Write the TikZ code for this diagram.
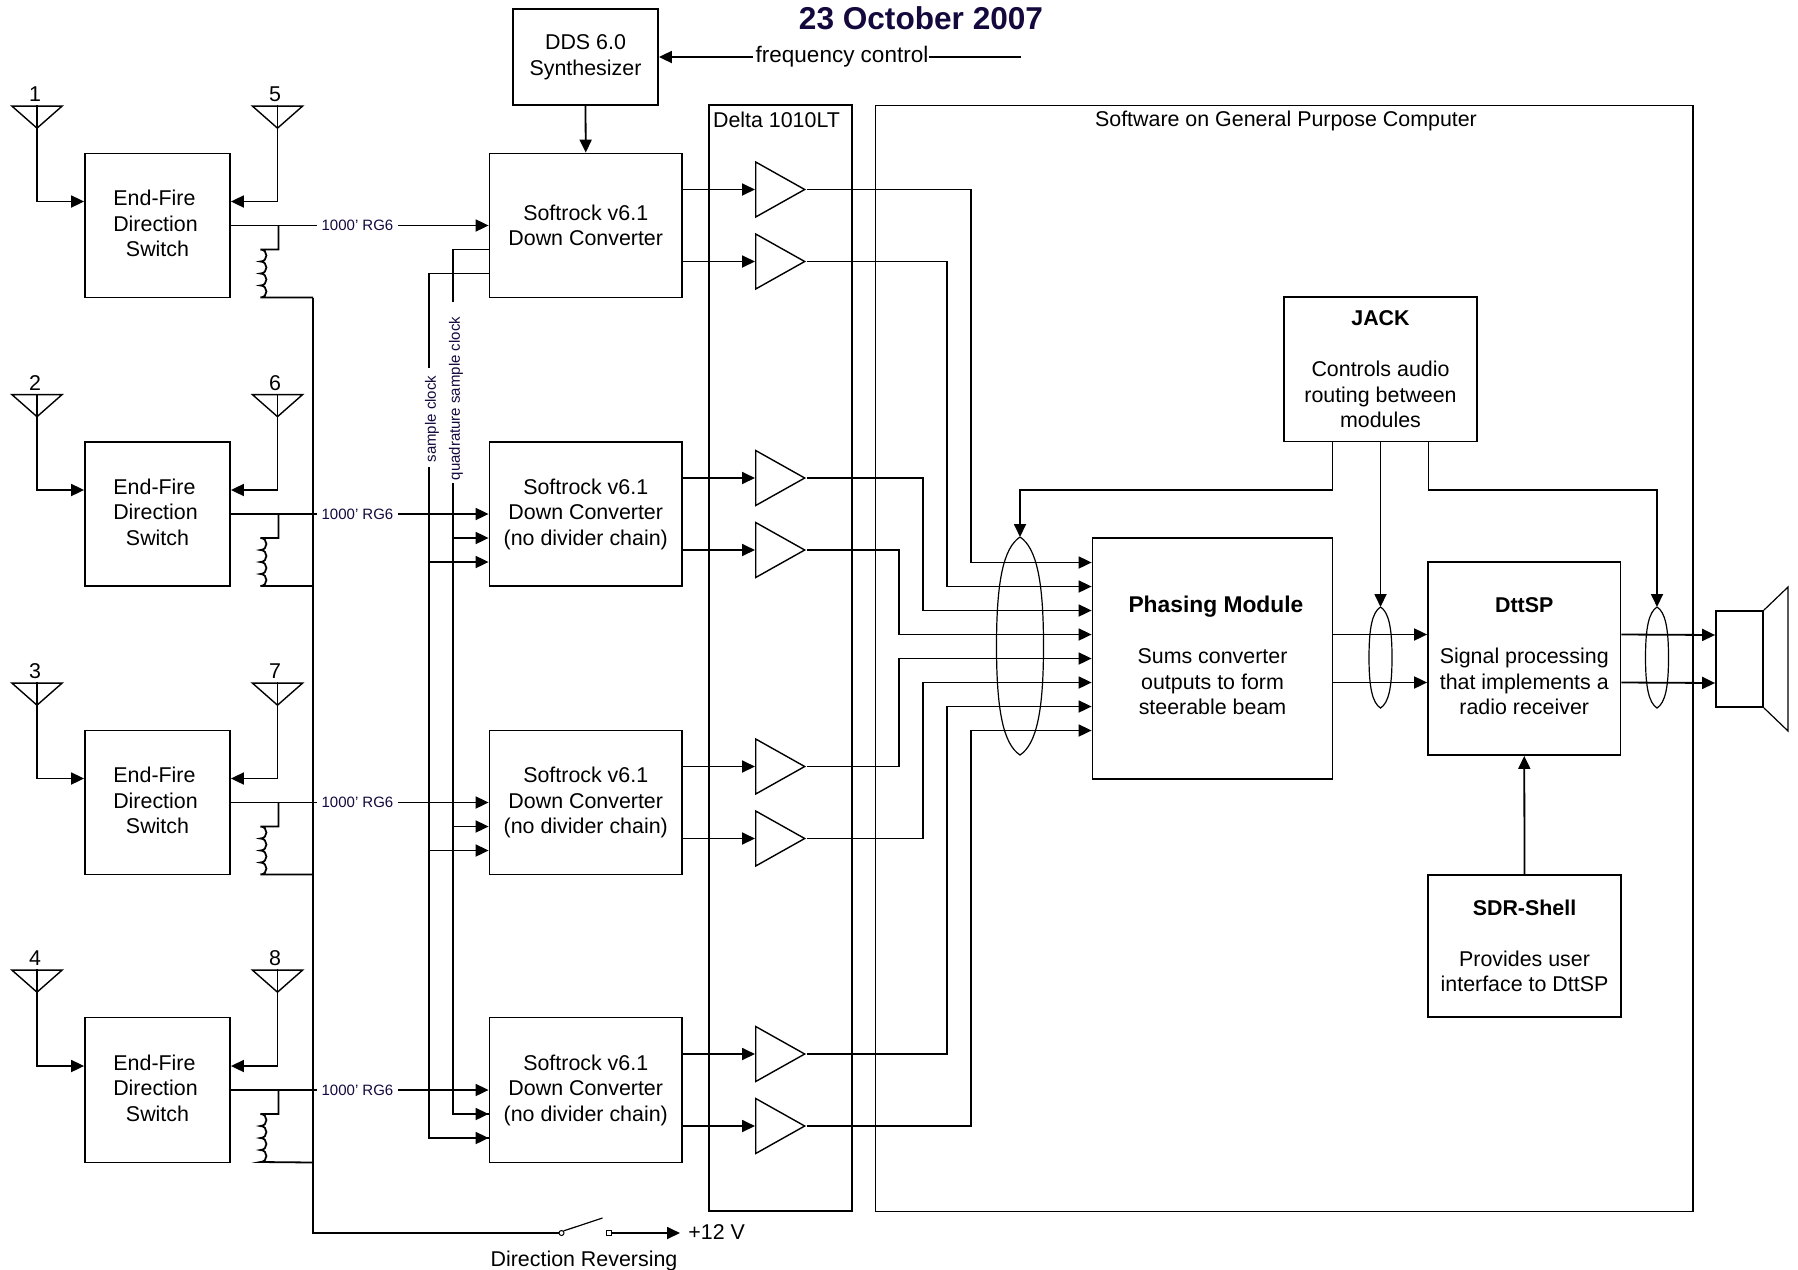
\documentclass[tikz,border=0pt]{standalone}
\usepackage{fontspec}
\setmainfont{Liberation Sans}
\usetikzlibrary{arrows.meta,calc,shapes.geometric}
\definecolor{navy}{rgb}{0.08,0.03,0.24}
\newcommand\lensshape[5]{%
  \coordinate (#1) at (#2,#3);
  \draw[thinl] (#1) .. controls ($(#1)+(0.7*#5,0.05*#4-0.05*#3)$) and ($(#1)+(#5,0.2*#4-0.2*#3)$) .. ($(#1)+(#5,0.5*#4-0.5*#3)$)
     .. controls ($(#1)+(#5,0.8*#4-0.8*#3)$) and ($(#1)+(0.7*#5,0.95*#4-0.95*#3)$) .. ($(#1)+(0,#4-#3)$)
     .. controls ($(#1)+(-0.7*#5,0.95*#4-0.95*#3)$) and ($(#1)+(-#5,0.8*#4-0.8*#3)$) .. ($(#1)+(-#5,0.5*#4-0.5*#3)$)
     .. controls ($(#1)+(-#5,0.2*#4-0.2*#3)$) and ($(#1)+(-0.7*#5,0.05*#4-0.05*#3)$) .. (#1);
}
\tikzset{
  x=0.5pt,y=-0.5pt,
  every node/.style={font=\fontsize{10.7}{12.75}\selectfont,align=center,inner sep=0pt},
  wire/.style={line width=0.9pt},
  thinl/.style={line width=0.6pt},
  arr/.style={wire,-{Triangle[length=6.5pt,width=6pt]}},
  boxwh/.style 2 args={draw,line width=0.9pt,rectangle,minimum width=#1*0.5pt,minimum height=#2*0.5pt},
  amp/.style={draw,line width=0.7pt,isosceles triangle,isosceles triangle stretches,minimum width=27.5pt,minimum height=24.5pt},
  ant/.style={draw,line width=0.7pt,isosceles triangle,isosceles triangle stretches,shape border rotate=270,minimum width=25pt,minimum height=11pt},
  small/.style={font=\fontsize{7.5}{9}\selectfont,text=navy},
}
\begin{document}
\begin{tikzpicture}
\useasboundingbox (0,0) rectangle (1798,1269);
\node (title) at (921,18) {\fontsize{15.8}{18}\selectfont\bfseries\textcolor{navy}{23 October 2007}};
\node[boxwh={143}{1106}] (delta) at (780.5,658) {};
\node[boxwh={817.5}{1106}] (soft) at (1284.25,658.5) {};
\node (deltat) at (776.5,120) {Delta 1010LT};
\node (softt) at (1286,120.5) {Software on General Purpose Computer};
\node[boxwh={145}{96}] (dds) at (585.5,57) {DDS 6.0\\Synthesizer};
\node[boxwh={240}{241},label={[yshift=1.4pt]center:{\hspace*{3.4pt}\fontsize{11.4}{12.75}\selectfont\textbf{Phasing Module}\\[12.75pt]Sums converter\\outputs to form\\steerable beam}}] (ph) at (1212.5,658.5) {};
\node[boxwh={192.5}{193},label={[yshift=1pt]center:{\textbf{DttSP}\\[12.75pt]Signal processing\\that implements a\\radio receiver}}] (dtt) at (1524.25,658.5) {};
\node[boxwh={193}{144.5}] (jack) at (1380.5,369.25) {\textbf{JACK}\\[12.75pt]Controls audio\\routing between\\modules};
\node[boxwh={193}{142}] (sdr) at (1524.5,946) {\textbf{SDR-Shell}\\[12.75pt]Provides user\\interface to DttSP};
\node[boxwh={47}{96}] (spk) at (1739.5,659) {};
\coordinate (conet) at (1788,587);
\coordinate (coneb) at (1788,731);
\draw[thinl] (spk.north east) -- (conet) -- (coneb) -- (spk.south east);
% frequency control
\node (freq) at (842,57) {\fontsize{11.25}{13}\selectfont frequency control};
\coordinate (fend) at (1021,57);
\draw[arr,shorten <=1pt] (freq.west) -- (dds.east);
\draw[wire] (freq.east) -- (fend);
% clock labels
\node[small,rotate=90] (qlab) at (456,398.5) {quadrature sample clock};
\node[small,rotate=90] (slab) at (432,419) {sample clock};
\coordinate (qtop) at (453,302);
\coordinate (qbot) at (453,483);
\coordinate (stop) at (429,368);
\coordinate (sbot) at (429,467);
% rows
\foreach \ri/\tp/\hh in {1/153.5/144,2/442/144,3/730.5/144,4/1017.5/145}{
  \pgfmathtruncatemacro\rj{\ri+4}
  \node[boxwh={145}{\hh},label={[yshift=1pt]center:{End-Fire\kern3pt\\Direction\kern2pt\\Switch}}] (sw\ri) at (157.5,\tp+0.5*\hh) {};
  \ifnum\ri=1
    \node[boxwh={192.5}{\hh}] (rf\ri) at (585.75,\tp+0.5*\hh) {Softrock v6.1\\Down Converter};
  \else
    \node[boxwh={192.5}{\hh}] (rf\ri) at (585.75,\tp+0.5*\hh) {Softrock v6.1\\Down Converter\\(no divider chain)};
  \fi
  \node[ant,anchor=apex] (al\ri) at (37,\tp-23.5) {};
  \node[ant,anchor=apex] (ar\ri) at (277.5,\tp-23.5) {};
  \node (nl\ri) at (35,\tp-59) {\ri};
  \node (nr\ri) at (275,\tp-59) {\rj};
  \draw[arr] (al\ri.lower side) -- (al\ri.apex) |- ($(sw\ri.west)+(0,-24)$);
  \draw[arr] (ar\ri.lower side) -- (ar\ri.apex) |- ($(sw\ri.east)+(0,-24)$);
  \node[small,fill=white,inner xsep=2pt,inner ysep=2pt] (lab\ri) at (357.5,\tp+0.5*\hh) {1000' RG6};
  \draw[wire] (sw\ri.east) -- (lab\ri.west);
  \draw[arr] (lab\ri.east) -- (rf\ri.west);
  \coordinate (br\ri) at ($(sw\ri.east)+(47.5,0)$);
  \coordinate (coil\ri) at ($(sw\ri.east)+(29.5,24)$);
  \coordinate (tap\ri) at (313,\tp+\hh);
  \draw[wire] (br\ri) |- (coil\ri)
     .. controls +(8,0) and +(8,0) .. ++(0,12)
     .. controls +(8,0) and +(8,0) .. ++(0,12)
     .. controls +(8,0) and +(8,0) .. ++(0,12)
     .. controls +(8,0) and +(8,0) .. ++(0,12) -- (tap\ri);
  \coordinate (q\ri) at ($(rf\ri.west)+(0,24)$);
  \coordinate (s\ri) at ($(rf\ri.west)+(0,48)$);
  \node[amp,anchor=lower side] (aa\ri) at ($(755,\tp+0.5*\hh)+(0,-36)$) {};
  \node[amp,anchor=lower side] (ab\ri) at ($(755,\tp+0.5*\hh)+(0,36)$) {};
  \draw[arr] ($(rf\ri.east)+(0,-36)$) -- (aa\ri.lower side);
  \draw[arr] ($(rf\ri.east)+(0,36)$) -- (ab\ri.lower side);
}
% bus
\node[draw,circle,line width=0.5pt,minimum size=2.5pt] (ca) at (561.5,1233) {};
\node[draw,rectangle,line width=0.5pt,minimum size=2.5pt] (cb) at (609,1233) {};
\coordinate (arm) at (602.5,1218);
\draw[wire] (tap1) -- (tap4) -- (313,1233) -- (ca.west);
\draw[thinl] (ca.north east) -- (arm);
\node[anchor=west,inner xsep=4pt] (v12) at (680,1232) {+12 V};
\draw[arr] (cb.east) -- (v12.west |- cb.east);
\node (revl) at (584,1261) {Direction Reversing};
% clock wires
\draw[wire] (q1) -| (qtop);
\draw[wire] (s1) -| (stop);
\draw[wire] (qbot) |- (q4);
\draw[wire] (sbot) |- (s4);
\foreach \ri in {2,3,4}{
  \draw[arr] (qbot |- q\ri) -- (q\ri);
  \draw[arr] (sbot |- s\ri) -- (s\ri);
}
\draw[arr] (dds.south) -- (rf1.north);
% phasing inputs
\foreach \i/\a/\off/\d in {1/aa1/-96/120.5,2/ab1/-72/144.5,3/aa2/-48/168.5,4/ab2/-24/192.5,5/aa3/0/192.5,6/ab3/24/168.5,7/aa4/48/144.5,8/ab4/72/120.5}{
  \coordinate (pin\i) at ($(ph.west)+(0,\off)$);
  \draw[arr] (\a.apex) -| ($(pin\i)+(-\d,0)$) -- (pin\i);
}
% module connections
\draw[arr] ($(ph.east)+(0,-24)$) -- ($(dtt.west)+(0,-24)$);
\draw[arr] ($(ph.east)+(0,24)$) -- ($(dtt.west)+(0,24)$);
\draw[arr] ($(dtt.east)+(0,-24)$) -- ($(spk.west)+(0,-24)$);
\draw[arr] ($(dtt.east)+(0,24)$) -- ($(spk.west)+(0,24)$);
\draw[arr] (sdr.north) -- (dtt.south);
\lensshape{lensa}{1020}{537}{755}{23.5}
\lensshape{lensb}{1380.5}{607}{708}{11.5}
\lensshape{lensc}{1657}{607}{708}{11.5}
\coordinate (jl) at (1332.5,441.5);
\coordinate (jr) at (1428.5,441.5);
\coordinate (jlm) at (1332.5,490);
\coordinate (jrm) at (1428.5,490);
\draw[arr] (jl) -- (jlm) -| (lensa);
\draw[arr] (jack.south) -- (lensb);
\draw[arr] (jr) -- (jrm) -| (lensc);
\end{tikzpicture}
\end{document}
